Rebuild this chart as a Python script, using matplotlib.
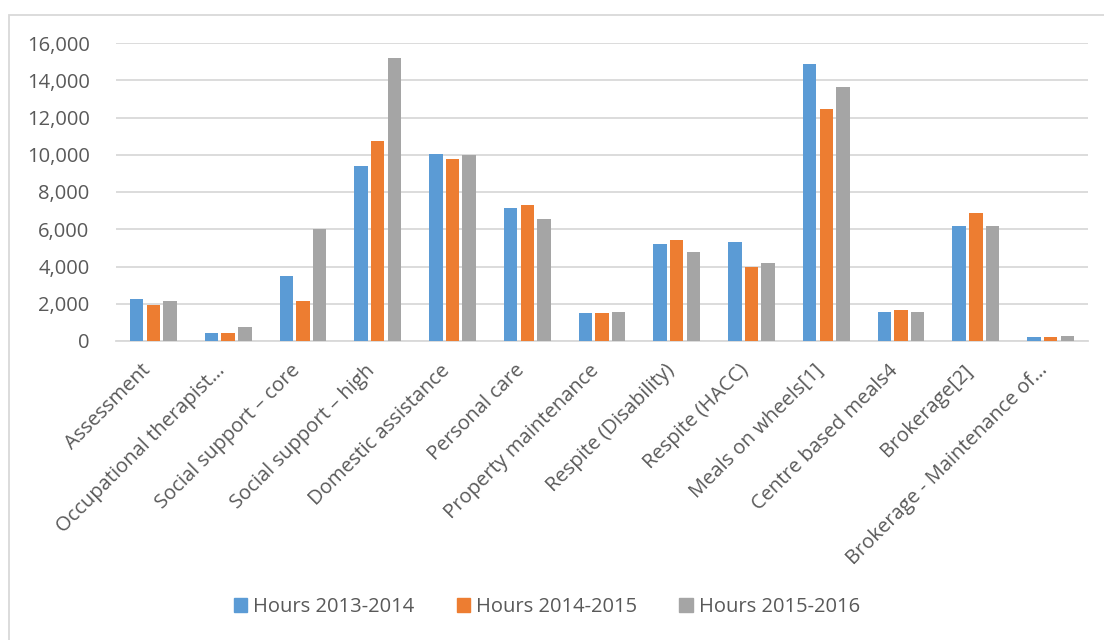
import matplotlib.pyplot as plt
import matplotlib.patches as mpatches
import numpy as np

# Service categories and hours delivered per financial year
categories = [
    "Assessment",
    "Occupational therapist…",
    "Social support – core",
    "Social support – high",
    "Domestic assistance",
    "Personal care",
    "Property maintenance",
    "Respite (Disability)",
    "Respite (HACC)",
    "Meals on wheels[1]",
    "Centre based meals4",
    "Brokerage[2]",
    "Brokerage - Maintenance of…",
]
hours_2013_2014 = [2230, 410, 3480, 9420, 10060, 7130, 1490, 5220, 5300, 14890, 1560, 6160, 240]
hours_2014_2015 = [1920, 410, 2170, 10760, 9780, 7320, 1520, 5400, 3950, 12450, 1650, 6870, 220]
hours_2015_2016 = [2140, 770, 6030, 15200, 9960, 6550, 1540, 4770, 4170, 13620, 1540, 6160, 250]

series_labels = ["Hours 2013-2014", "Hours 2014-2015", "Hours 2015-2016"]
series_colors = ["#5b9bd5", "#ed7d31", "#a5a5a5"]
y_ticks = [0, 2000, 4000, 6000, 8000, 10000, 12000, 14000, 16000]

plt.rcParams['font.family'] = ['Open Sans', 'DejaVu Sans']
text_color = "#595959"
grid_color = "#d9d9d9"

W, H = 1104, 640
fig = plt.figure(figsize=(W / 100, H / 100), dpi=100)
# plot area in pixel coordinates: left 116, right 1088, top 43, bottom 341
ax = fig.add_axes([116 / W, 1 - 341 / H, (1088 - 116) / W, (341 - 43) / H])

x = np.arange(len(categories))
step = 0.223
bar_w = 0.18
all_series = [hours_2013_2014, hours_2014_2015, hours_2015_2016]
for i, (vals, lab, col) in enumerate(zip(all_series, series_labels, series_colors)):
    ax.bar(x + (i - 1) * step, vals, width=bar_w, color=col, label=lab, zorder=3)

ax.set_xlim(-0.5, len(categories) - 0.5)
ax.set_ylim(0, 16000)
ax.set_yticks(y_ticks)
ax.set_yticklabels([f"{v:,}" for v in y_ticks], color=text_color, fontsize=14.5)
ax.yaxis.grid(True, color=grid_color, linewidth=1.3, zorder=0)
ax.tick_params(axis='both', length=0)
ax.tick_params(axis='y', pad=19)

# rotated category labels, end of each label near the group centre
ax.set_xticks(x - 0.17)
ax.set_xticklabels(categories, rotation=45, ha='right', rotation_mode='anchor',
                   color=text_color, fontsize=14.5)
ax.tick_params(axis='x', pad=14)

for side in ['left', 'right', 'top']:
    ax.spines[side].set_visible(False)
ax.spines['bottom'].set_color(grid_color)
ax.spines['bottom'].set_linewidth(1.3)

# Legend along the bottom
handles = [mpatches.Patch(color=c, label=l) for c, l in zip(series_colors, series_labels)]
fig.legend(handles=handles, loc='center', bbox_to_anchor=(547 / W, 1 - 607 / H),
           ncol=3, frameon=False, fontsize=14.5, labelcolor=text_color,
           handlelength=0.65, handleheight=0.65, handletextpad=0.3, columnspacing=2.1)

# Chart frame (top and left edges visible)
fig.patches.append(mpatches.Rectangle((9 / W, -0.1), 1.2, 1 - 14.5 / H + 0.1,
                                      transform=fig.transFigure, fill=False,
                                      edgecolor=grid_color, linewidth=1.3))

fig.savefig("out.png", dpi=100)
